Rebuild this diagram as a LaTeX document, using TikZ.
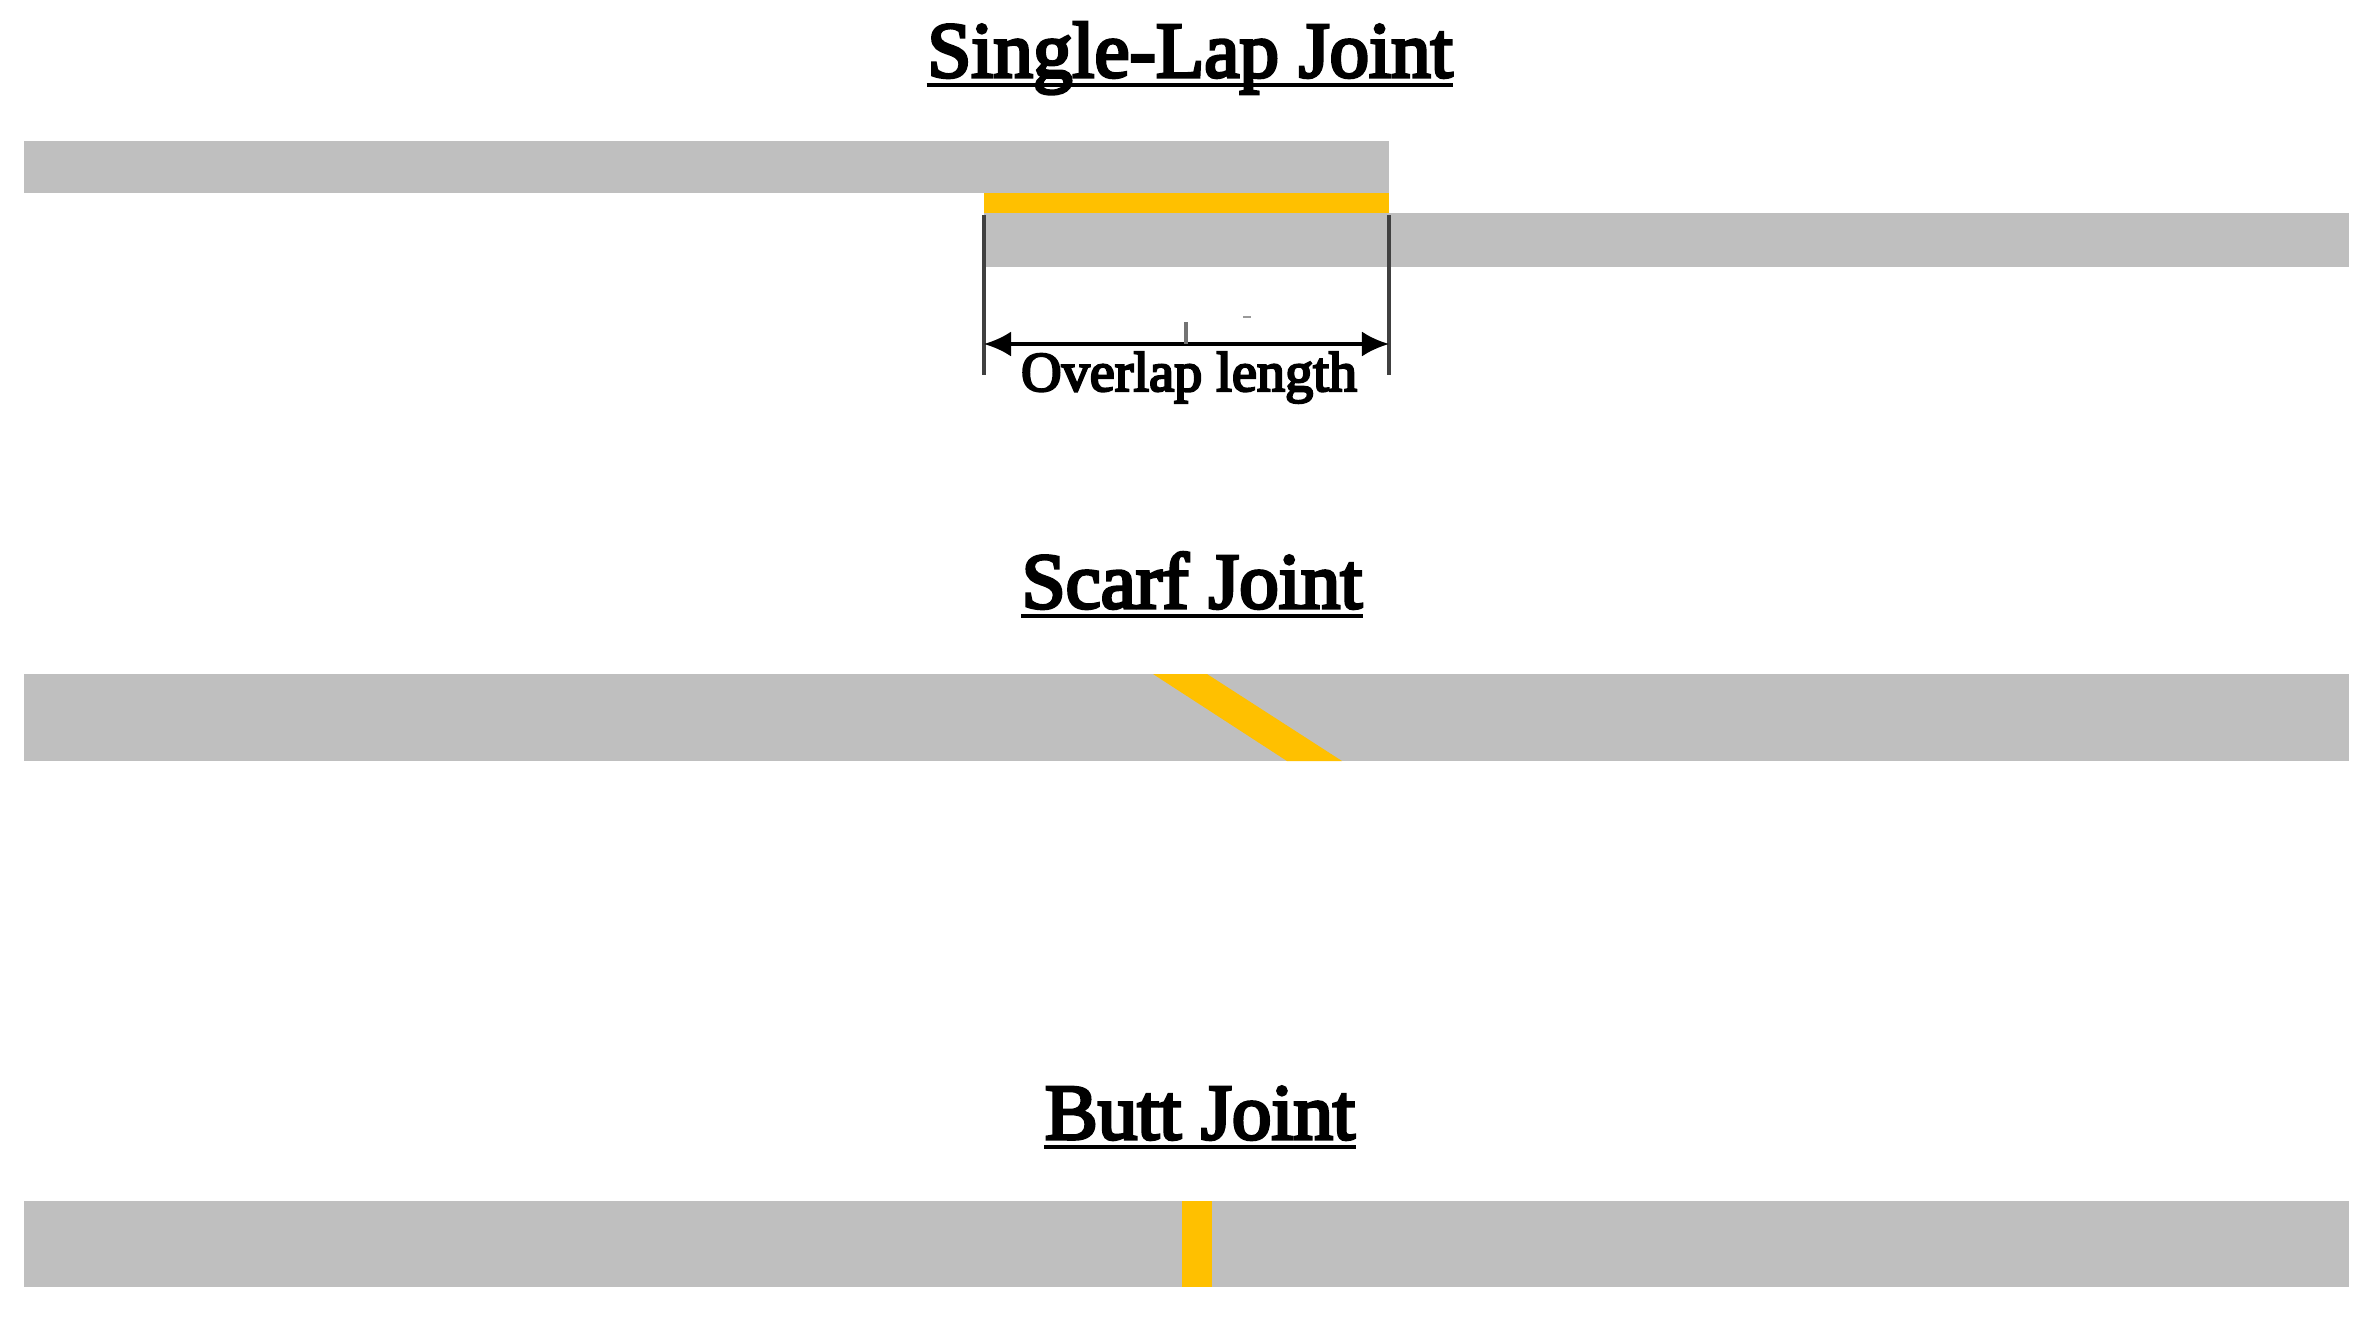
\documentclass[tikz,border=0pt]{standalone}
\usepackage{fontspec}
\setmainfont{Liberation Serif}
\newfontfamily\jointfont[FakeBold=4]{Liberation Serif}
\usetikzlibrary{arrows.meta}
\definecolor{adherend}{HTML}{BFBFBF}
\definecolor{adhesive}{HTML}{FFC000}
\tikzset{
	adherendbar/.style={fill=adherend,draw=none},
	adhesivebar/.style={fill=adhesive,draw=none},
	jointtitle/.style={inner sep=0pt,anchor=base,font=\jointfont\fontsize{22.5}{24}\selectfont},
	titlerule/.style={line width=1pt,black},
	dimline/.style={line width=0.9pt,black!75},
}
\begin{document}
\begin{tikzpicture}[x=0.01cm,y=-0.01cm]
		\useasboundingbox (0,0) rectangle (2375,1317);
		% single-lap
		\fill [adherendbar] (24,141) rectangle (1389,193);
		\fill [adherendbar] (984,213) rectangle (2349,267);
		\fill [adhesivebar] (984,193) rectangle (1389,213);
		\node [jointtitle] (laptitle) at (1190,77) {Single-Lap Joint};
		\draw [titlerule] ([yshift=-2.2pt]laptitle.base west) -- ([yshift=-2.2pt]laptitle.base east);
		\coordinate (lapa) at (984,215);
		\coordinate (lapb) at (1389,215);
		\coordinate (lapc) at (984,375);
		\coordinate (lapd) at (1389,375);
		\coordinate (arra) at (984,344);
		\coordinate (arrb) at (1389,344);
		\draw [dimline] (lapa) -- (lapc);
		\draw [dimline] (lapb) -- (lapd);
		\draw [{Latex[length=2.7mm,width=2.5mm]}-{Latex[length=2.7mm,width=2.5mm]},line width=1pt] (arra) -- (arrb);
		\draw [line width=1.2pt,black!55] (1186,322) -- (1186,344);
		\draw [line width=0.3pt,black!40] (1243,317) -- (1251,317);
		\node [inner sep=0pt,anchor=base,font=\jointfont\fontsize{16}{17}\selectfont] (overlap) at (1189,391) {Overlap length};
		% scarf
		\fill [adherendbar] (24,674) rectangle (2349,761);
		\fill [adhesivebar] (1153,674) -- (1207,674) -- (1342,761) -- (1287,761) -- cycle;
		\node [jointtitle] (scarftitle) at (1192,608) {Scarf Joint};
		\draw [titlerule] ([yshift=-2.2pt]scarftitle.base west) -- ([yshift=-2.2pt]scarftitle.base east);
		% butt
		\fill [adherendbar] (24,1201) rectangle (2349,1287);
		\fill [adhesivebar] (1182,1201) rectangle (1212,1287);
		\node [jointtitle] (butttitle) at (1200,1139) {Butt Joint};
		\draw [titlerule] ([yshift=-2.2pt]butttitle.base west) -- ([yshift=-2.2pt]butttitle.base east);
	\end{tikzpicture}
\end{document}
